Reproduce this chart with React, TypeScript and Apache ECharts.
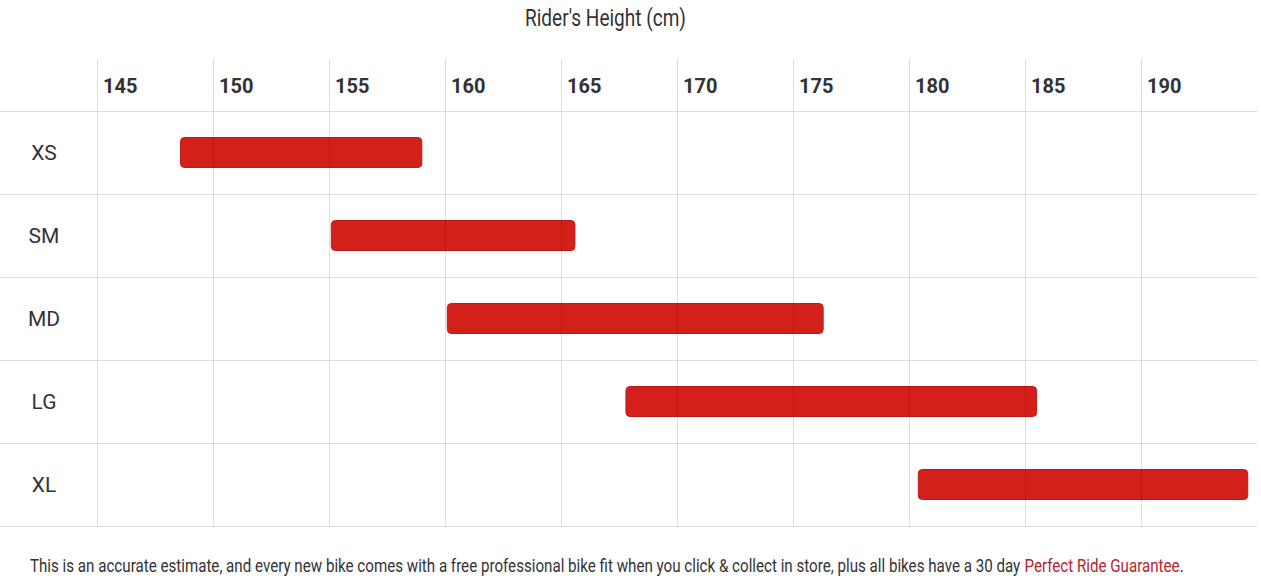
import React, { useEffect, useRef } from "react";
import * as echarts from "echarts";

const sizes = ["XS", "SM", "MD", "LG", "XL"];
const heightFrom = [148.6, 155.1, 160.1, 167.8, 180.4];
const heightTo = [159.0, 165.6, 176.3, 185.5, 194.6];
const axisMin = 145;
const axisMax = 195;
const axisStep = 5;
const titleText = "Rider's Height (cm)";
const footerText =
  "This is an accurate estimate, and every new bike comes with a free professional bike fit when you click & collect in store, plus all bikes have a 30 day ";
const footerLink = "Perfect Ride Guarantee";

const FONT = "Roboto, 'Liberation Sans', sans-serif";
const TEXT = "#333333";
const LINK = "#b3262d";
const LINE = "rgba(0,0,0,0.13)";

function measure(text: string, font: string): number {
  const c = document.createElement("canvas");
  const ctx = c.getContext("2d");
  if (!ctx) return text.length * 8;
  ctx.font = font;
  return ctx.measureText(text).width;
}

export default function App() {
  const ref = useRef<HTMLDivElement>(null);
  useEffect(() => {
    if (!ref.current) return;
    const chart = echarts.init(ref.current, null, { renderer: "svg" });
    const data = sizes.map((s, i) => [i, heightFrom[i], heightTo[i]]);

    const titleSize = 23;
    const titleW = measure(titleText, `${titleSize}px Roboto`);
    const titleScale = 161 / titleW;
    const footSize = 19;
    const footW = measure(footerText + footerLink + ".", `${footSize}px Roboto`);
    const footScale = 1153 / footW;

    chart.setOption({
      animation: false,
      backgroundColor: "#ffffff",
      textStyle: { fontFamily: FONT },
      grid: [
        { left: 97, right: 4, top: 111, bottom: 61 },
        { left: 97, right: 4, top: 59, height: 52 },
        { left: 0, width: 97, top: 111, bottom: 61 },
      ],
      xAxis: [
        {
          type: "value",
          gridIndex: 0,
          position: "top",
          min: axisMin,
          max: axisMax,
          interval: axisStep,
          z: 5,
          axisLine: { show: false },
          axisTick: { show: false },
          axisLabel: {
            showMaxLabel: false,
            align: "left",
            verticalAlign: "middle",
            margin: 25,
            padding: [0, 0, 0, 6],
            fontFamily: FONT,
            fontWeight: "bold",
            fontSize: 20,
            color: TEXT,
          },
          splitLine: { show: true, showMaxLine: false, lineStyle: { color: LINE, width: 1 } },
        },
        {
          type: "value",
          gridIndex: 1,
          min: axisMin,
          max: axisMax,
          interval: axisStep,
          axisLine: { show: false },
          axisTick: { show: false },
          axisLabel: { show: false },
          splitLine: { show: true, showMaxLine: false, lineStyle: { color: LINE, width: 1 } },
        },
        { type: "value", gridIndex: 2, show: false },
      ],
      yAxis: [
        {
          type: "category",
          gridIndex: 0,
          data: sizes,
          inverse: true,
          z: 5,
          axisLine: { show: false },
          axisTick: { show: false },
          axisLabel: {
            align: "center",
            margin: 53,
            fontFamily: FONT,
            fontSize: 21,
            color: TEXT,
          },
          splitLine: { show: true, lineStyle: { color: LINE, width: 1 } },
        },
        { type: "value", gridIndex: 1, show: false },
        {
          type: "category",
          gridIndex: 2,
          data: sizes,
          inverse: true,
          axisLine: { show: false },
          axisTick: { show: false },
          axisLabel: { show: false },
          splitLine: { show: true, lineStyle: { color: LINE, width: 1 } },
        },
      ],
      series: [
        {
          type: "custom",
          xAxisIndex: 0,
          yAxisIndex: 0,
          encode: { x: [1, 2], y: 0 },
          data,
          renderItem: (params: any, api: any) => {
            const idx = api.value(0);
            const p1 = api.coord([api.value(1), idx]);
            const p2 = api.coord([api.value(2), idx]);
            const h = 30;
            return {
              type: "rect",
              shape: { x: p1[0], y: p1[1] - h / 2, width: p2[0] - p1[0], height: h, r: 4 },
              style: { fill: "#d4201b", stroke: "#b91a16", lineWidth: 1 },
            };
          },
        },
      ],
      graphic: [
        {
          type: "text",
          x: 525,
          y: 18,
          scaleX: titleScale,
          style: {
            text: titleText,
            fontFamily: FONT,
            fontSize: titleSize,
            fill: TEXT,
            align: "left",
            verticalAlign: "middle",
          },
        },
        {
          type: "text",
          x: 30,
          y: 565,
          scaleX: footScale,
          style: {
            text: "{a|" + footerText + "}{b|" + footerLink + "}{a|.}",
            verticalAlign: "middle",
            rich: {
              a: { fontFamily: FONT, fontSize: footSize, fill: TEXT, color: TEXT },
              b: { fontFamily: FONT, fontSize: footSize, fill: LINK, color: LINK },
            },
          },
        },
      ],
    });
    return () => chart.dispose();
  }, []);
  return (
    <div
      ref={ref}
      style={{ position: "fixed", left: 0, top: 0, width: 1261, height: 587, background: "#fff" }}
    />
  );
}
